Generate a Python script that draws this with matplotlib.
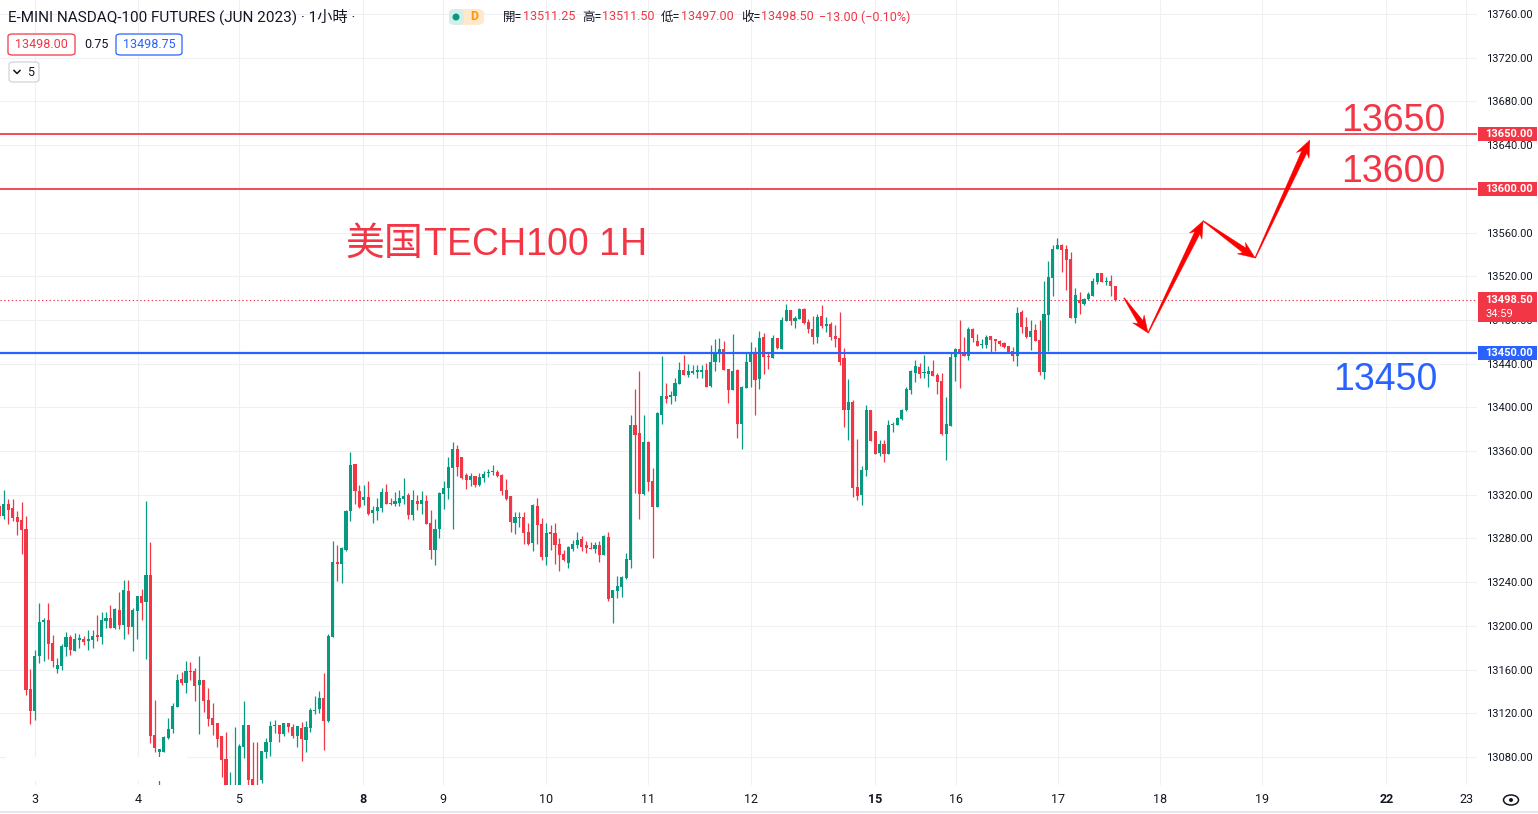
import numpy as np
import matplotlib
matplotlib.use("Agg")
import matplotlib.pyplot as plt
from matplotlib import font_manager
from matplotlib.patches import Rectangle, FancyBboxPatch, Polygon, Ellipse
from matplotlib.lines import Line2D

# ---------------- data (E-mini Nasdaq-100, 1h candles) ----------------
opens = [
    13309.8, 13300.7, 13311.6, 13308.0, 13299.7, 13297.0, 13288.8, 13142.4, 13122.5, 13172.0,
    13203.7, 13205.5, 13184.5, 13161.0, 13163.7, 13181.1, 13190.3, 13177.1, 13187.5, 13188.1,
    13186.3, 13187.5, 13191.8, 13190.3, 13204.9, 13207.3, 13198.5, 13214.6, 13200.9, 13232.0,
    13199.4, 13214.0, 13227.5, 13222.3, 13246.7, 13100.3, 13085.0, 13085.0, 13097.8, 13105.5,
    13126.2, 13151.5, 13148.2, 13159.1, 13158.8, 13146.0, 13150.6, 13132.3, 13115.8, 13111.3,
    13099.7, 13078.3, 13045.0, 13050.0, 13053.0, 13089.6, 13109.4, 13060.0, 13052.0, 13059.1,
    13085.0, 13093.3, 13108.0, 13109.4, 13101.5, 13110.9, 13107.9, 13099.7, 13106.7, 13096.0,
    13107.0, 13122.2, 13123.8, 13134.4, 13113.1, 13190.3, 13258.6, 13257.1, 13269.6, 13304.7,
    13348.3, 13323.6, 13315.4, 13318.1, 13303.4, 13305.6, 13308.0, 13322.7, 13312.9, 13311.7,
    13312.6, 13316.3, 13319.9, 13301.6, 13314.4, 13311.7, 13314.4, 13294.0, 13269.6, 13288.9,
    13320.8, 13326.3, 13344.6, 13362.0, 13354.7, 13338.2, 13333.7, 13337.3, 13329.1, 13335.5,
    13340.0, 13340.9, 13341.0, 13338.2, 13324.5, 13319.0, 13294.3, 13298.8, 13299.7, 13286.0,
    13276.0, 13309.8, 13293.3, 13263.1, 13286.0, 13285.1, 13275.0, 13265.9, 13257.7, 13270.5,
    13274.1, 13279.6, 13274.1, 13271.4, 13270.5, 13274.1, 13265.0, 13281.4, 13225.6, 13232.0,
    13235.7, 13243.9, 13260.4, 13383.9, 13376.9, 13320.8, 13368.4, 13332.7, 13309.2, 13393.1,
    13410.5, 13409.6, 13410.5, 13421.4, 13434.3, 13429.7, 13431.5, 13432.4, 13432.4, 13434.3,
    13419.6, 13441.6, 13449.8, 13453.5, 13435.2, 13416.0, 13434.3, 13384.8, 13417.8, 13441.6,
    13450.7, 13426.0, 13464.4, 13447.0, 13445.2, 13463.5, 13453.5, 13479.1, 13489.2, 13479.1,
    13481.0, 13490.1, 13478.2, 13471.8, 13464.5, 13483.7, 13474.6, 13476.4, 13465.4, 13463.6,
    13445.3, 13397.7, 13405.0, 13327.3, 13319.9, 13342.8, 13397.7, 13378.5, 13358.3, 13366.6,
    13357.4, 13383.7, 13384.0, 13389.5, 13397.7, 13416.0, 13431.9, 13437.0, 13431.6, 13430.6,
    13433.4, 13429.7, 13424.2, 13375.7, 13383.1, 13446.2, 13453.5, 13450.8, 13447.1, 13471.8,
    13460.8, 13457.2, 13457.2, 13465.4, 13462.7, 13460.8, 13459.0, 13456.3, 13451.7, 13447.1,
    13487.4, 13473.6, 13464.5, 13470.9, 13461.8, 13432.5, 13484.6, 13518.5, 13545.0, 13548.7,
    13545.0, 13535.9, 13481.9, 13498.4, 13494.7, 13499.3, 13502.0, 13514.8, 13523.0, 13515.0,
    13515.7, 13511.25]

highs = [
    13312.0, 13324.5, 13316.2, 13316.2, 13305.2, 13313.5, 13300.7, 13160.7, 13178.0, 13221.0,
    13207.6, 13221.0, 13191.8, 13170.7, 13183.8, 13194.5, 13192.1, 13193.6, 13192.4, 13191.2,
    13196.3, 13196.3, 13210.4, 13212.8, 13212.8, 13219.2, 13216.5, 13231.1, 13242.1, 13242.1,
    13216.5, 13227.5, 13233.9, 13314.4, 13276.9, 13132.3, 13087.5, 13099.7, 13116.1, 13129.6,
    13155.8, 13157.9, 13168.0, 13167.1, 13161.6, 13172.6, 13150.6, 13143.3, 13129.6, 13111.3,
    13099.7, 13103.0, 13066.4, 13107.9, 13091.7, 13131.4, 13109.4, 13093.3, 13094.2, 13085.6,
    13097.8, 13113.1, 13114.3, 13109.4, 13110.9, 13110.9, 13110.0, 13108.5, 13112.2, 13113.1,
    13125.3, 13136.0, 13140.8, 13157.3, 13192.7, 13278.1, 13274.1, 13272.0, 13306.2, 13359.3,
    13348.3, 13329.1, 13329.1, 13332.7, 13309.9, 13317.2, 13326.3, 13330.0, 13317.2, 13322.7,
    13324.5, 13335.2, 13321.8, 13324.5, 13319.9, 13323.9, 13319.9, 13306.2, 13298.0, 13322.7,
    13332.7, 13354.7, 13368.4, 13365.7, 13354.7, 13340.0, 13340.0, 13337.3, 13340.0, 13341.9,
    13343.7, 13347.4, 13342.8, 13339.1, 13334.6, 13319.0, 13304.3, 13304.3, 13304.3, 13294.3,
    13311.9, 13317.1, 13298.8, 13294.3, 13292.4, 13294.3, 13280.5, 13269.6, 13273.2, 13278.7,
    13286.0, 13282.4, 13277.8, 13276.9, 13276.9, 13277.8, 13283.3, 13286.0, 13233.0, 13245.8,
    13245.8, 13266.8, 13393.1, 13416.9, 13433.6, 13393.1, 13369.3, 13344.3, 13395.5, 13447.0,
    13422.4, 13415.0, 13426.9, 13441.6, 13448.0, 13439.7, 13438.8, 13438.8, 13438.8, 13440.7,
    13457.1, 13462.6, 13463.5, 13460.8, 13435.2, 13467.2, 13435.2, 13419.6, 13449.8, 13459.9,
    13455.3, 13469.9, 13468.1, 13450.7, 13466.3, 13463.5, 13482.7, 13494.6, 13489.2, 13483.7,
    13491.0, 13491.0, 13481.0, 13483.7, 13485.5, 13493.8, 13482.8, 13478.2, 13475.5, 13487.4,
    13454.4, 13426.1, 13406.9, 13371.2, 13346.5, 13402.3, 13397.7, 13378.5, 13370.3, 13370.3,
    13388.6, 13386.7, 13391.3, 13398.6, 13418.7, 13434.3, 13443.5, 13440.7, 13448.0, 13438.0,
    13443.5, 13431.6, 13431.6, 13409.6, 13449.9, 13454.4, 13480.1, 13464.5, 13473.6, 13472.7,
    13467.2, 13462.7, 13466.3, 13465.4, 13462.7, 13461.8, 13459.9, 13456.3, 13455.3, 13491.9,
    13489.2, 13482.8, 13480.1, 13476.4, 13480.1, 13515.7, 13534.0, 13548.7, 13555.1, 13549.6,
    13548.7, 13542.3, 13509.3, 13505.7, 13500.2, 13505.7, 13518.5, 13523.0, 13523.0, 13519.4,
    13521.2, 13511.5]

lows = [
    13298.5, 13298.2, 13293.4, 13296.4, 13283.6, 13266.2, 13136.9, 13110.6, 13114.3, 13166.5,
    13168.3, 13169.8, 13162.5, 13157.3, 13159.8, 13172.9, 13173.5, 13177.1, 13180.2, 13182.6,
    13178.3, 13180.2, 13186.6, 13183.8, 13198.5, 13198.5, 13197.6, 13197.6, 13188.4, 13193.0,
    13177.4, 13188.4, 13205.5, 13170.1, 13092.4, 13085.0, 13050.0, 13085.0, 13096.3, 13101.8,
    13126.2, 13146.0, 13139.0, 13150.6, 13131.7, 13101.5, 13121.6, 13108.8, 13100.6, 13089.6,
    13061.3, 13040.0, 13038.0, 13042.0, 13048.0, 13079.5, 13050.0, 13045.0, 13040.0, 13056.0,
    13079.0, 13080.5, 13101.8, 13094.2, 13099.7, 13103.0, 13097.2, 13089.6, 13076.8, 13085.0,
    13103.3, 13119.2, 13120.7, 13086.0, 13112.2, 13190.3, 13241.5, 13239.7, 13268.1, 13296.4,
    13311.7, 13308.3, 13310.8, 13301.9, 13294.6, 13297.1, 13303.8, 13311.7, 13310.2, 13309.9,
    13309.9, 13311.7, 13298.0, 13297.1, 13306.2, 13302.5, 13293.4, 13261.4, 13255.3, 13280.0,
    13307.1, 13316.3, 13288.8, 13337.3, 13334.6, 13325.4, 13328.2, 13327.2, 13328.2, 13331.8,
    13336.4, 13338.2, 13336.4, 13319.9, 13315.4, 13286.1, 13284.2, 13290.6, 13275.0, 13274.1,
    13268.6, 13275.0, 13260.4, 13255.8, 13269.6, 13256.7, 13250.3, 13259.5, 13253.1, 13268.6,
    13271.4, 13268.6, 13266.8, 13270.5, 13266.8, 13258.6, 13265.0, 13222.9, 13202.8, 13225.6,
    13226.5, 13243.0, 13253.4, 13322.0, 13298.2, 13319.9, 13323.8, 13262.5, 13309.2, 13384.8,
    13404.1, 13403.1, 13405.9, 13421.4, 13429.7, 13427.8, 13430.6, 13426.9, 13426.9, 13418.7,
    13418.7, 13433.3, 13441.6, 13434.3, 13404.1, 13416.0, 13372.0, 13362.0, 13417.8, 13418.7,
    13393.1, 13416.9, 13430.6, 13435.2, 13445.2, 13453.5, 13453.5, 13479.1, 13475.4, 13472.7,
    13481.0, 13476.4, 13468.2, 13458.1, 13459.0, 13472.7, 13469.1, 13461.8, 13455.3, 13438.9,
    13382.2, 13370.3, 13318.1, 13315.4, 13310.8, 13337.3, 13369.3, 13357.4, 13355.6, 13350.1,
    13357.4, 13377.6, 13384.0, 13388.6, 13396.8, 13412.3, 13423.3, 13427.0, 13427.0, 13418.7,
    13428.8, 13412.3, 13374.8, 13351.9, 13383.1, 13424.2, 13417.8, 13447.1, 13443.5, 13459.9,
    13456.3, 13454.4, 13454.4, 13450.8, 13451.7, 13456.3, 13454.4, 13449.9, 13442.5, 13438.0,
    13468.2, 13463.6, 13452.6, 13460.8, 13429.7, 13426.1, 13451.7, 13502.0, 13545.0, 13524.0,
    13507.5, 13481.9, 13477.3, 13485.5, 13493.8, 13498.4, 13502.0, 13513.0, 13514.8, 13512.1,
    13502.0, 13497.0]

closes = [
    13301.0, 13311.6, 13306.2, 13299.1, 13295.5, 13287.9, 13141.5, 13122.5, 13172.9, 13203.7,
    13205.5, 13183.8, 13168.3, 13164.3, 13182.0, 13190.0, 13178.3, 13188.4, 13189.3, 13185.4,
    13188.4, 13191.2, 13190.3, 13205.5, 13207.3, 13198.5, 13215.6, 13201.2, 13232.9, 13199.4,
    13214.6, 13227.5, 13221.4, 13246.7, 13099.7, 13088.7, 13087.0, 13098.7, 13105.8, 13126.8,
    13150.6, 13147.9, 13158.8, 13158.2, 13145.4, 13150.6, 13131.7, 13115.2, 13109.4, 13096.9,
    13077.7, 13048.0, 13052.0, 13053.0, 13090.5, 13109.4, 13059.1, 13052.0, 13048.0, 13085.6,
    13093.9, 13108.8, 13108.8, 13100.9, 13110.9, 13107.9, 13099.7, 13108.5, 13096.9, 13107.9,
    13123.1, 13123.1, 13134.4, 13113.4, 13190.9, 13258.6, 13257.0, 13271.1, 13305.6, 13347.4,
    13323.6, 13309.2, 13318.1, 13302.8, 13306.2, 13308.9, 13322.7, 13311.7, 13311.7, 13314.4,
    13317.2, 13319.0, 13301.6, 13315.4, 13311.7, 13315.4, 13293.4, 13269.6, 13288.8, 13321.8,
    13326.3, 13345.5, 13362.0, 13345.5, 13335.5, 13333.7, 13337.3, 13329.1, 13336.4, 13339.1,
    13341.0, 13341.9, 13337.3, 13323.6, 13316.3, 13295.2, 13299.7, 13299.7, 13285.1, 13275.0,
    13310.7, 13292.4, 13263.1, 13285.1, 13284.2, 13274.1, 13265.0, 13260.4, 13272.3, 13275.0,
    13278.7, 13272.3, 13271.4, 13270.8, 13274.1, 13265.0, 13282.4, 13224.7, 13233.0, 13236.6,
    13244.9, 13261.3, 13383.9, 13374.8, 13320.8, 13368.4, 13332.1, 13309.2, 13394.6, 13410.5,
    13407.7, 13411.4, 13422.4, 13434.3, 13429.7, 13433.3, 13433.3, 13434.2, 13434.3, 13418.7,
    13441.6, 13449.8, 13453.5, 13434.3, 13416.0, 13433.3, 13384.8, 13418.7, 13441.6, 13450.7,
    13425.1, 13463.5, 13446.1, 13446.1, 13463.5, 13454.4, 13480.0, 13489.2, 13479.1, 13481.8,
    13490.1, 13477.3, 13471.8, 13464.5, 13482.8, 13474.6, 13476.4, 13464.5, 13462.7, 13441.6,
    13397.7, 13405.0, 13326.3, 13319.0, 13342.8, 13397.7, 13369.3, 13357.4, 13366.6, 13357.4,
    13384.0, 13384.3, 13390.4, 13397.7, 13416.9, 13433.4, 13438.0, 13430.6, 13432.1, 13433.4,
    13428.8, 13423.3, 13375.7, 13384.9, 13446.2, 13453.5, 13448.9, 13447.1, 13471.8, 13463.6,
    13456.3, 13458.1, 13464.5, 13461.8, 13460.8, 13458.1, 13455.3, 13450.8, 13447.1, 13486.5,
    13473.6, 13464.5, 13470.0, 13460.8, 13432.5, 13485.5, 13519.4, 13545.0, 13548.7, 13544.1,
    13534.9, 13481.9, 13502.9, 13495.6, 13499.3, 13503.8, 13515.7, 13523.0, 13514.8, 13515.5,
    13511.5, 13498.5]

day_labels = ['3', '4', '5', '8', '9', '10', '11', '12', '15', '16', '17', '18', '19', '22', '23']
day_ticks = [8.0, 31.2, 53.9, 81.8, 99.8, 123.0, 145.9, 169.1, 197.0, 215.2, 238.2, 261.1, 284.1, 312.0, 330.0]
week_starts = ['8', '15', '22']
price_ticks = list(range(13080, 13761, 40))

resistance_levels = [13650, 13600]
support_level = 13450
bid_price, ask_price = 13498.00, 13498.75

# forecast path drawn on the chart (bar index, price)
path_idx = [253.0, 258.4, 270.8, 282.5, 294.8]
path_price = [13500.1, 13468.1, 13570.6, 13536.7, 13644.7]

# ---------------- styling ----------------
W, H = 1538, 814
UP, DOWN, BLUE, TXT = '#089981', '#f23645', '#2962ff', '#131722'
GRID = '#eef0f3'

names = {f.name for f in font_manager.fontManager.ttflist}
NARROW = 'Liberation Sans Narrow' if 'Liberation Sans Narrow' in names else 'Liberation Sans'
BIG = 32.5 if NARROW == 'Liberation Sans Narrow' else 27

plt.rcParams['font.family'] = ['Roboto', 'Noto Sans CJK TC', 'DejaVu Sans']

fig = plt.figure(figsize=(W / 100, H / 100), dpi=100)
fig.patch.set_facecolor('white')
AX_B = 785
AX_R = 1477
ax = fig.add_axes([0, 1 - AX_B / H, AX_R / W, AX_B / H])
ax.set_xlim(0.157, 332.4)
ax.set_ylim(13054.4, 13772.8)
for s in ax.spines.values():
    s.set_visible(False)


def fx(x):
    return x / W


def fy(y):
    return 1 - y / H


def ftext(x, y, s, **kw):
    return fig.text(fx(x), fy(y), s, **kw)


# candles
o = np.array(opens); h = np.array(highs); l = np.array(lows); c = np.array(closes)
idx = np.arange(len(c))
col = np.where(c >= o, UP, DOWN)
blo = np.minimum(o, c); bhi = np.maximum(o, c)
ax.vlines(idx, np.minimum(l, blo), np.maximum(h, bhi), colors=col, lw=0.9, zorder=3)
ax.bar(idx, np.maximum(bhi - blo, 0.9), bottom=blo, width=0.7, color=col, lw=0, zorder=4)

# grid + ticks
ax.set_yticks(price_ticks)
ax.set_yticklabels([f"{p:.2f}" for p in price_ticks])
ax.yaxis.tick_right()
ax.set_xticks(day_ticks)
ax.set_xticklabels(day_labels)
ax.grid(True, color=GRID, lw=0.8)
ax.set_axisbelow(True)
ax.tick_params(axis='y', length=0, pad=6.5, labelsize=8, labelcolor=TXT)
ax.tick_params(axis='x', length=0, pad=5.5, labelsize=9, labelcolor=TXT)
for lbl in ax.get_xticklabels():
    if lbl.get_text() in week_starts:
        lbl.set_fontweight('bold')

# level lines
for lv in resistance_levels:
    ax.axhline(lv, color=DOWN, lw=1.25, zorder=5)
ax.axhline(support_level, color=BLUE, lw=1.6, zorder=5)
ax.axhline(closes[-1], color=DOWN, lw=0.8, ls=(0, (1.2, 2.2)), zorder=2)


# tapered arrows for the forecast path
def tapered_arrow(x0, y0, x1, y1, color='#ff0000'):
    T = ax.transData
    p0 = np.array(T.transform((x0, y0)))
    p1 = np.array(T.transform((x1, y1)))
    d = p1 - p0
    u = d / np.hypot(*d)
    n = np.array([-u[1], u[0]])
    head_len, head_w, neck_w, tail_w = 17.0, 7.0, 2.8, 0.4
    base = p1 - u * head_len
    neck = p1 - u * head_len * 0.78
    pts = [p0 + n * tail_w, neck + n * neck_w, base + n * head_w, p1,
           base - n * head_w, neck - n * neck_w, p0 - n * tail_w]
    pts = T.inverted().transform(pts)
    ax.add_patch(Polygon(pts, closed=True, fc=color, ec=color, lw=0.3, zorder=6))


for k in range(len(path_idx) - 1):
    tapered_arrow(path_idx[k], path_price[k], path_idx[k + 1], path_price[k + 1])

# white cover box near the lower-left
fig.patches.append(Rectangle((fx(6), fy(781)), fx(181), (781 - 757) / H,
                             transform=fig.transFigure, fc='white', ec='none', zorder=1))

# annotations
ftext(345, 255, '美国', fontsize=28, color=DOWN, va='baseline', family=['Noto Sans CJK SC'])
ftext(424, 255, 'TECH100 1H', fontsize=BIG, color=DOWN, va='baseline', family=[NARROW])
ftext(1341, 131, f"{resistance_levels[0]}", fontsize=BIG, color=DOWN, va='baseline', family=[NARROW])
ftext(1341, 182, f"{resistance_levels[1]}", fontsize=BIG, color=DOWN, va='baseline', family=[NARROW])
ftext(1333, 390, f"{support_level}", fontsize=BIG, color=BLUE, va='baseline', family=[NARROW])


# price tags on the right axis
def tag(ytop, ybot, color, lines):
    fig.patches.append(Rectangle((fx(1478), fy(ybot)), fx(1537 - 1478), (ybot - ytop) / H,
                                 transform=fig.transFigure, fc=color, ec='none', zorder=2))
    for (yy, s, wgt) in lines:
        ftext(1485, yy, s, fontsize=8, color='white', va='center', fontweight=wgt, zorder=3)


tag(127, 141, DOWN, [(134, f"{resistance_levels[0]:.2f}", 'bold')])
tag(182, 196, DOWN, [(189, f"{resistance_levels[1]:.2f}", 'bold')])
tag(292, 322, DOWN, [(300, f"{closes[-1]:.2f}", 'bold'), (314, '34:59', 'normal')])
tag(346, 360, BLUE, [(353, f"{support_level:.2f}", 'bold')])

# header
ftext(8, 17, 'E-MINI NASDAQ-100 FUTURES (JUN 2023) · 1小時 ·', fontsize=11, color=TXT, va='center')
fig.patches.append(FancyBboxPatch((fx(449), fy(25)), fx(35), 16 / H, boxstyle='round,pad=0,rounding_size=0.005',
                                  transform=fig.transFigure, fc='#ffe8cc', ec='none', zorder=1))
fig.patches.append(FancyBboxPatch((fx(449), fy(25)), fx(15), 16 / H, boxstyle='round,pad=0,rounding_size=0.005',
                                  transform=fig.transFigure, fc='#d3efe9', ec='none', zorder=1))
fig.patches.append(Ellipse((fx(456), fy(17)), fx(7), 7 / H, transform=fig.transFigure,
                           fc=UP, ec='none', zorder=2))
ftext(474, 17, 'D', fontsize=9, color='#ff9800', va='center', ha='center', fontweight='bold')

chg = closes[-1] - closes[-2]
pct = chg / closes[-2] * 100
items = [(503, '開=', TXT), (523, f"{opens[-1]:.2f}", DOWN),
         (582, '高=', TXT), (602, f"{highs[-1]:.2f}", DOWN),
         (661, '低=', TXT), (681, f"{lows[-1]:.2f}", DOWN),
         (741, '收=', TXT), (761, f"{closes[-1]:.2f}", DOWN),
         (819, f"{chg:+.2f} ({pct:+.2f}%)".replace('-', '\u2212'), DOWN)]
for x, s, cc in items:
    ftext(x, 17, s, fontsize=9, color=cc, va='center')


def box(x0, x1, y0, y1, ec):
    fig.patches.append(FancyBboxPatch((fx(x0), fy(y1)), fx(x1 - x0), (y1 - y0) / H,
                                      boxstyle='round,pad=0,rounding_size=0.003',
                                      transform=fig.transFigure, fc='white', ec=ec, lw=0.9, zorder=1))


box(8, 75, 34, 55, DOWN)
ftext(41.5, 44.5, f"{bid_price:.2f}", fontsize=9, color=DOWN, va='center', ha='center')
ftext(84, 44, f"{ask_price - bid_price:.2f}", fontsize=9, color=TXT, va='center')
box(116, 182, 34, 55, BLUE)
ftext(149, 44.5, f"{ask_price:.2f}", fontsize=9, color=BLUE, va='center', ha='center')
box(9, 39, 62, 82, '#d1d4dc')
fig.lines.append(Line2D([fx(14), fx(17), fx(20)], [fy(70.5), fy(73.5), fy(70.5)],
                        transform=fig.transFigure, color=TXT, lw=1.1))
ftext(27, 72.5, '5', fontsize=9, color=TXT, va='center')

# bottom border + settings icon
fig.lines.append(Line2D([0, 1], [fy(812), fy(812)], transform=fig.transFigure, color='#e0e3eb', lw=1.2))
fig.patches.append(Ellipse((fx(1511), fy(800)), fx(15), 10 / H, transform=fig.transFigure,
                           fc='none', ec=TXT, lw=1.1))
fig.patches.append(Ellipse((fx(1511), fy(800)), fx(4), 4 / H, transform=fig.transFigure,
                           fc=TXT, ec='none'))

fig.savefig('out.png', dpi=100, facecolor='white')
